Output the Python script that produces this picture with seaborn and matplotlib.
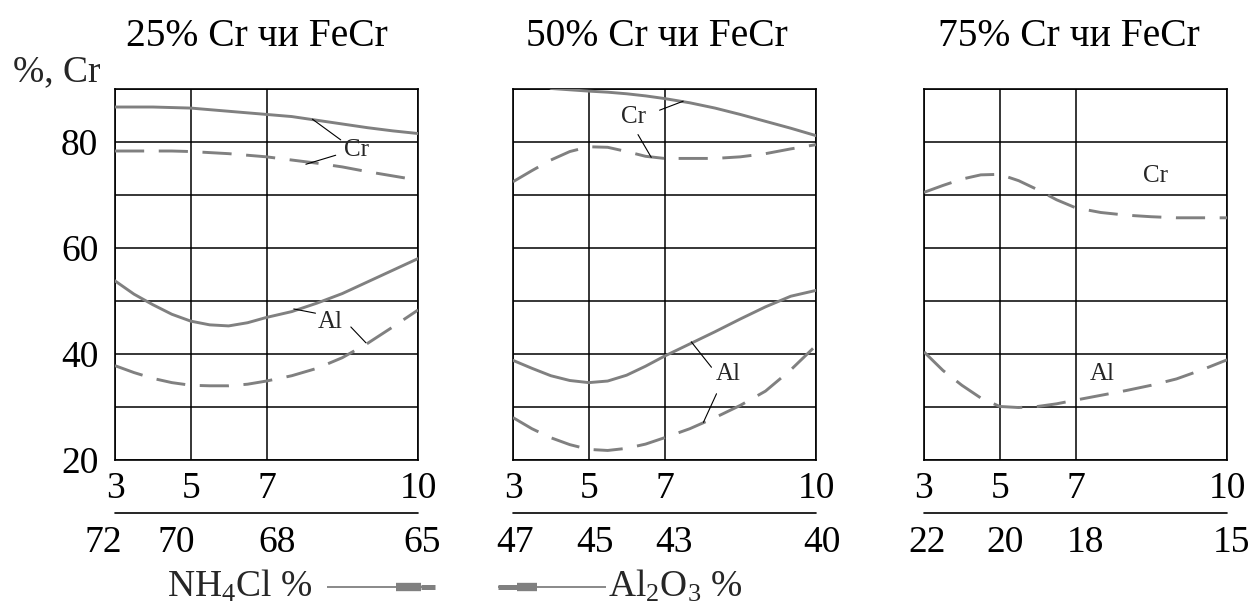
import numpy as np
import matplotlib
matplotlib.use("Agg")
import matplotlib.pyplot as plt
from matplotlib.lines import Line2D
import seaborn as sns

# ---- data -------------------------------------------------------------
nh4cl = [3, 3.5, 4, 4.5, 5, 5.5, 6, 6.5, 7, 7.5, 8, 8.5, 9, 9.5, 10]
nh4cl_cr50_top = [4, 4.5, 5, 5.5, 6, 6.5, 7, 7.5, 8, 8.5, 9, 9.5, 10]

cr25_solid = [86.6, 86.6, 86.6, 86.5, 86.4, 86.1, 85.8, 85.5, 85.2, 84.8, 84.1, 83.4, 82.7, 82.1, 81.6]
cr25_dash = [78.3, 78.3, 78.3, 78.3, 78.2, 78.0, 77.8, 77.5, 77.2, 76.6, 76.0, 75.3, 74.4, 73.6, 72.8]
al25_solid = [53.8, 51.3, 49.3, 47.5, 46.2, 45.5, 45.3, 45.9, 46.9, 48.0, 49.6, 51.4, 53.6, 55.8, 58.0]
al25_dash = [37.8, 36.5, 35.4, 34.6, 34.1, 34.0, 34.0, 34.3, 34.9, 35.9, 37.3, 39.3, 42.0, 45.1, 48.3]

cr50_solid = [90.1, 89.85, 89.6, 89.4, 89.1, 88.7, 88.2, 87.4, 86.4, 85.2, 83.9, 82.6, 81.2]
cr50_dash = [72.5, 74.6, 76.6, 78.2, 79.1, 79.0, 78.2, 77.3, 76.9, 76.9, 76.9, 77.2, 77.8, 78.7, 79.5]
al50_solid = [38.8, 37.3, 35.9, 35.0, 34.6, 34.9, 36.0, 37.7, 39.6, 41.9, 44.2, 46.6, 48.9, 50.9, 52.0]
al50_dash = [28.0, 25.9, 24.2, 22.9, 22.0, 21.8, 22.2, 23.0, 24.2, 25.9, 28.0, 30.3, 33.0, 37.0, 41.6]

cr75_dash = [70.5, 71.8, 73.0, 73.8, 73.9, 72.7, 71.0, 69.1, 67.6, 66.7, 66.2, 65.9, 65.7, 65.7, 65.7]
al75_dash = [40.4, 36.9, 34.1, 31.7, 30.1, 29.9, 30.1, 30.6, 31.3, 32.2, 33.1, 34.1, 35.3, 37.0, 38.9]

titles = ["25% Cr чи FeCr", "50% Cr чи FeCr", "75% Cr чи FeCr"]
nh4cl_ticks = [3, 5, 7, 10]
nh4cl_labels = ["3", "5", "7", "10"]
al2o3_labels = [["72", "70", "68", "65"],
                ["47", "45", "43", "40"],
                ["22", "20", "18", "15"]]
y_ticks = [20, 30, 40, 50, 60, 70, 80, 90]
y_labels = ["20", "", "40", "", "60", "", "80", ""]

# ---- style ------------------------------------------------------------
sns.set_theme(style="white")
plt.rcParams["font.family"] = ["Liberation Serif", "DejaVu Serif"]
plt.rcParams["mathtext.fontset"] = "custom"
plt.rcParams["mathtext.rm"] = "Liberation Serif"
plt.rcParams["mathtext.it"] = "Liberation Serif:italic"

GRAY = "#808080"
CURVE_LW = 2.1
DASH = (0, (10, 5))
FS = 27
TITLE_FS = 28.5

# x axis: grid columns 3-5-7 are equal, 7-10 is twice as wide
knots = [-97, 3, 5, 7, 10, 110]
places = [-50, 0, 1, 2, 4, 4 + 100 * 2 / 3]


def fwd(v):
    return np.interp(v, knots, places)


def inv(v):
    return np.interp(v, places, knots)


fig = plt.figure(figsize=(12.58, 6.11), dpi=100)
W, H = 1258.0, 611.0


def fig_box(left, top, right, bottom):
    return [left / W, 1 - bottom / H, (right - left) / W, (bottom - top) / H]


lefts = [115, 513, 924]
axes = [fig.add_axes(fig_box(l, 89, l + 303, 460)) for l in lefts]

curves = [
    [(nh4cl, cr25_solid, "-"), (nh4cl, cr25_dash, DASH),
     (nh4cl, al25_solid, "-"), (nh4cl, al25_dash, DASH)],
    [(nh4cl_cr50_top, cr50_solid, "-"), (nh4cl, cr50_dash, DASH),
     (nh4cl, al50_solid, "-"), (nh4cl, al50_dash, DASH)],
    [(nh4cl, cr75_dash, DASH), (nh4cl, al75_dash, DASH)],
]

# pixel nudges of the lower (Al2O3) tick row
row2_offsets = [[-12, -14, 11, 4], [2, 6, 9, 6], [3, 5, 10, 4]]
title_x = [0.469, 0.475, 0.477]

for i, ax in enumerate(axes):
    for xs, ys, ls in curves[i]:
        sns.lineplot(x=xs, y=ys, ax=ax, color=GRAY, linewidth=CURVE_LW,
                     linestyle=ls, estimator=None, sort=False, zorder=3)
    ax.set_xscale("function", functions=(fwd, inv))
    ax.set_xlim(3, 10)
    ax.set_ylim(20, 90)
    ax.set_xticks(nh4cl_ticks)
    ax.set_xticklabels(nh4cl_labels)
    ax.set_yticks(y_ticks)
    ax.set_yticklabels(y_labels if i == 0 else [""] * len(y_ticks))
    ax.minorticks_off()
    ax.tick_params(axis="both", length=0, labelsize=FS, colors="black")
    ax.tick_params(axis="x", pad=8)
    ax.tick_params(axis="y", pad=12)
    ax.grid(True, color="black", linewidth=1.1)
    ax.set_axisbelow(True)
    for sp in ax.spines.values():
        sp.set_visible(True)
        sp.set_color("black")
        sp.set_linewidth(1.2)
    ax.set_xlabel("")
    ax.set_ylabel("")
    ax.set_title(titles[i], fontsize=TITLE_FS, x=title_x[i], pad=31, color="black")

    # fraction bar and Al2O3 values under the NH4Cl values
    ax.add_line(Line2D([0, 1], [-0.143, -0.143], transform=ax.transAxes,
                       color="black", linewidth=1.2, clip_on=False))
    for xv, lab, off in zip(nh4cl_ticks, al2o3_labels[i], row2_offsets[i]):
        ax.annotate(lab, xy=(xv, 0), xycoords=("data", "axes fraction"),
                    xytext=(off * 0.72, -47), textcoords="offset points",
                    ha="center", va="top", fontsize=FS, color="black",
                    annotation_clip=False)

LABEL_FS = 18
leader = dict(arrowstyle="-", color="black", lw=0.8, shrinkA=0, shrinkB=0)

# panel 1 curve labels
a = axes[0]
a.text(8.79, 78.5, "Cr", fontsize=LABEL_FS, ha="center", va="center")
a.annotate("", xy=(7.91, 84.3), xytext=(8.47, 80.4), arrowprops=leader)
a.annotate("", xy=(7.78, 75.8), xytext=(8.37, 77.5), arrowprops=leader)
a.text(8.27, 46.0, "Al", fontsize=LABEL_FS, ha="center", va="center")
a.annotate("", xy=(7.54, 48.5), xytext=(7.97, 47.7), arrowprops=leader)
a.annotate("", xy=(8.97, 42.1), xytext=(8.67, 45.1), arrowprops=leader)

# panel 2 curve labels
a = axes[1]
a.text(6.19, 84.8, "Cr", fontsize=LABEL_FS, ha="center", va="center")
a.annotate("", xy=(7.37, 87.7), xytext=(6.87, 86.0), arrowprops=leader)
a.annotate("", xy=(6.65, 77.1), xytext=(6.30, 81.4), arrowprops=leader)
a.text(8.27, 36.3, "Al", fontsize=LABEL_FS, ha="center", va="center")
a.annotate("", xy=(7.53, 42.3), xytext=(7.93, 37.5), arrowprops=leader)
a.annotate("", xy=(7.77, 27.1), xytext=(8.03, 32.5), arrowprops=leader)

# panel 3 curve labels
a = axes[2]
a.text(8.59, 73.5, "Cr", fontsize=LABEL_FS, ha="center", va="center")
a.text(7.52, 36.3, "Al", fontsize=LABEL_FS, ha="center", va="center")

# axis caption and direction arrows at the bottom
fig.text(57 / W, 1 - 72 / H, "%, Cr", fontsize=FS, ha="center", va="center")
fig.text(167 / W, 1 - 597 / H, r"NH$_\mathrm{4}$Cl %", fontsize=FS,
         ha="left", va="baseline")
fig.text(608 / W, 1 - 597 / H, r"Al$_\mathrm{2}$O$_\mathrm{3}$ %", fontsize=FS,
         ha="left", va="baseline")


def hseg(x0, x1, y, lw):
    fig.add_artist(Line2D([x0 / W, x1 / W], [1 - y / H, 1 - y / H],
                          color=GRAY, linewidth=lw, solid_capstyle="butt"))


hseg(327, 435, 587, 1.3)
hseg(396, 421, 587, 6.0)
hseg(421, 435, 587, 3.6)
hseg(498, 606, 587, 1.3)
hseg(517, 537, 587, 6.0)
hseg(498, 517, 587, 3.6)

fig.savefig("out.png", dpi=100)
